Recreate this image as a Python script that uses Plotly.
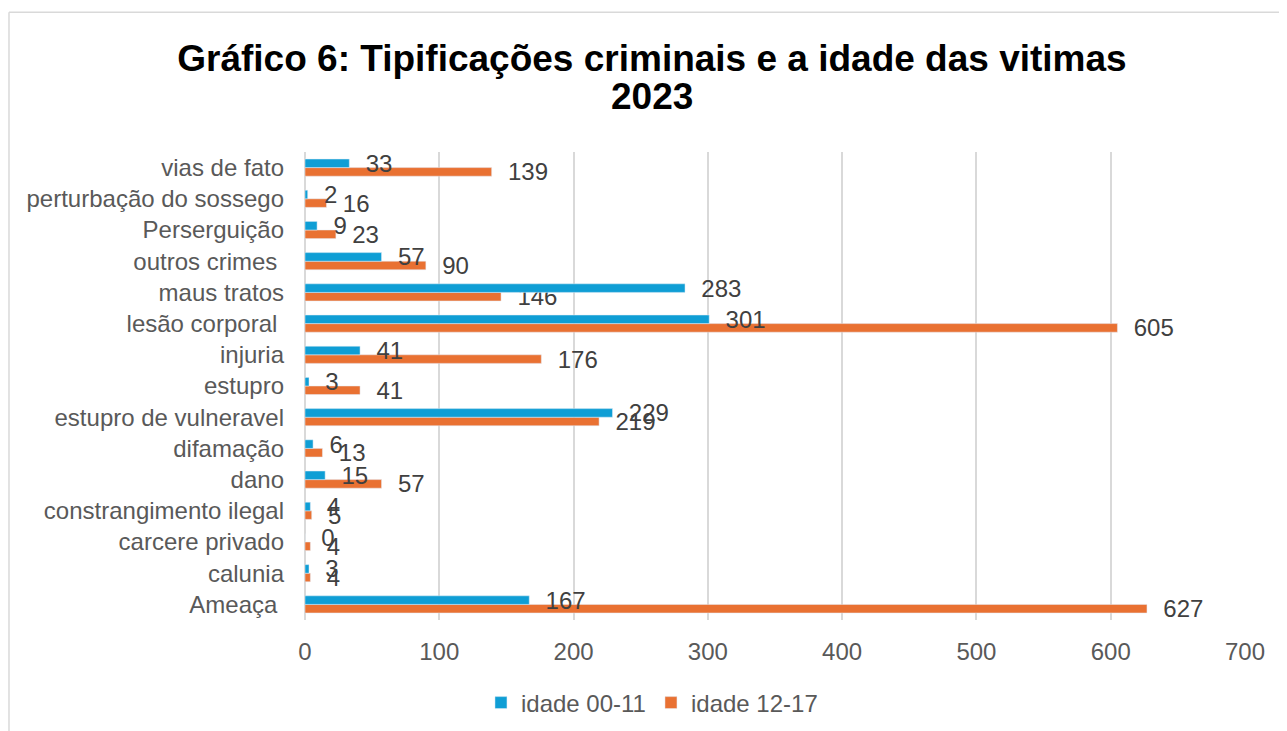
import plotly.graph_objects as go

# categories bottom -> top, as drawn on the chart
categorias = [
    "Ameaça\u00a0",
    "calunia",
    "carcere privado",
    "constrangimento ilegal",
    "dano",
    "difamação",
    "estupro de vulneravel",
    "estupro",
    "injuria",
    "lesão corporal\u00a0",
    "maus tratos",
    "outros crimes\u00a0",
    "Perserguição",
    "perturbação do sossego",
    "vias de fato",
]
idade_00_11 = [167, 3, 0, 4, 15, 6, 229, 3, 41, 301, 283, 57, 9, 2, 33]
idade_12_17 = [627, 4, 4, 5, 57, 13, 219, 41, 176, 605, 146, 90, 23, 16, 139]

azul = "#0F9ED5"
laranja = "#E97132"
fonte = "Liberation Sans, Arial, sans-serif"
pad = "\u00a0\u00a0"

fig = go.Figure()
# orange first so the blue bar sits on top inside each group
fig.add_trace(go.Bar(
    y=categorias, x=idade_12_17, orientation="h", name="idade 12-17",
    marker=dict(color=laranja), legendrank=2,
    text=[pad + str(v) for v in idade_12_17], textposition="outside",
    constraintext="none", cliponaxis=False,
    textfont=dict(size=24, color="#404040", family=fonte),
))
fig.add_trace(go.Bar(
    y=categorias, x=idade_00_11, orientation="h", name="idade 00-11",
    marker=dict(color=azul), legendrank=1,
    text=[pad + str(v) for v in idade_00_11], textposition="outside",
    constraintext="none", cliponaxis=False,
    textfont=dict(size=24, color="#404040", family=fonte),
))

# chart area frame (left and top edges are visible in the crop)
borda = dict(type="line", xref="paper", yref="paper", line=dict(color="#d9d9d9", width=1.5))
shapes = [
    dict(borda, x0=-0.3149, x1=-0.3149, y0=-0.25, y1=1.2984),
    dict(borda, x0=-0.3149, x1=1.06, y0=1.2984, y1=1.2984),
]

fig.update_layout(
    width=1279, height=723,
    margin=dict(l=297, r=42, t=144, b=111),
    paper_bgcolor="white", plot_bgcolor="white",
    font=dict(family=fonte, color="#595959", size=24),
    barmode="group", bargap=0.45, bargroupgap=0,
    title=dict(
        text="<b>Gráfico 6: Tipificações criminais e a idade das vitimas</b>",
        font=dict(size=37, color="black", family=fonte),
        x=0.5035, xref="container", xanchor="center",
        y=0.9308, yref="container", yanchor="middle",
    ),
    annotations=[dict(
        text="<b>2023</b>", xref="paper", yref="paper", x=0.3691, y=1.1176,
        xanchor="center", yanchor="middle", showarrow=False,
        font=dict(size=37, color="black", family=fonte),
    )],
    xaxis=dict(
        range=[0, 700], dtick=100, showgrid=True, gridcolor="#d9d9d9", gridwidth=1.5,
        zeroline=True, zerolinecolor="#d9d9d9", zerolinewidth=1.5,
        showline=False, ticks="outside", ticklen=10, tickcolor="rgba(0,0,0,0)",
        tickfont=dict(size=24, color="#595959"),
    ),
    yaxis=dict(
        showgrid=False, zeroline=False, showline=False,
        ticks="", ticklabelstandoff=20,
        tickfont=dict(size=24, color="#595959"),
    ),
    legend=dict(
        orientation="h", x=0.5035, xref="container", xanchor="center",
        y=0.0387, yref="container", yanchor="middle",
        font=dict(size=24, color="#595959"),
    ),
    shapes=shapes,
)

fig.write_html("out.html")
